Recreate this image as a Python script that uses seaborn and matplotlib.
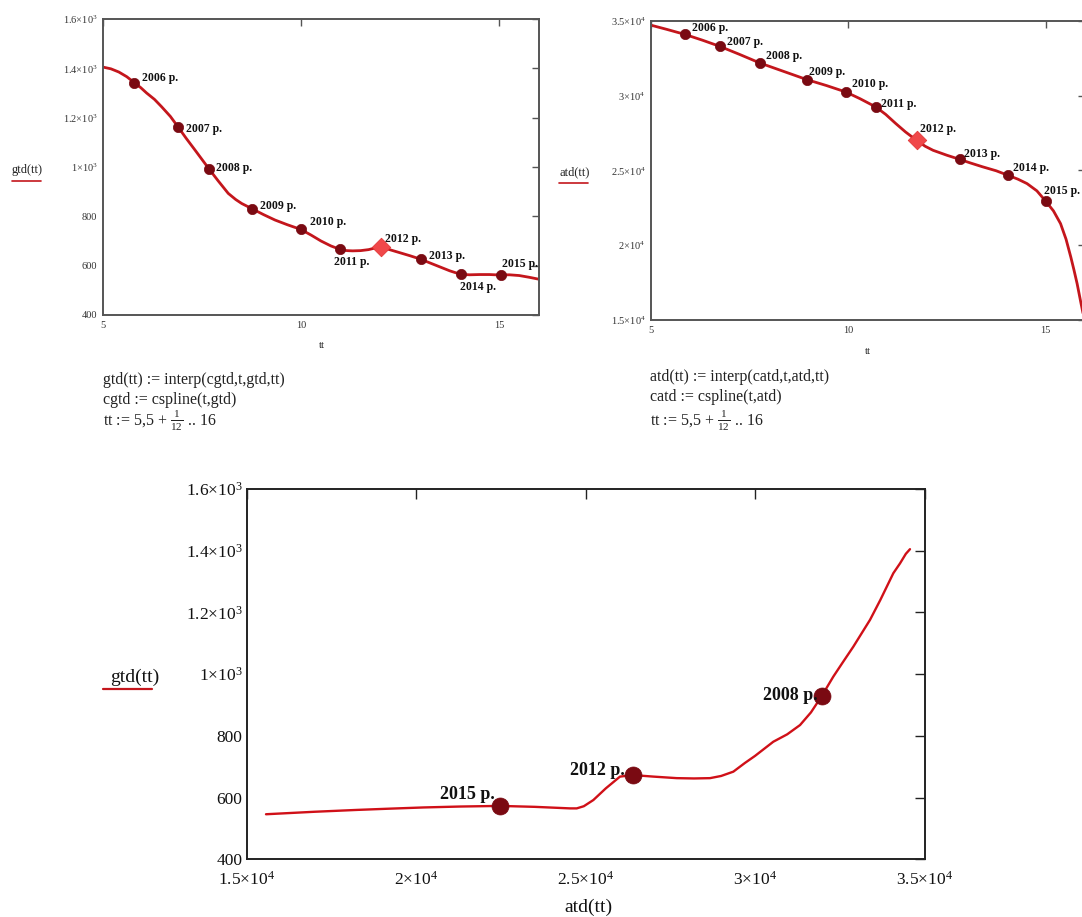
import matplotlib
matplotlib.use("Agg")
import matplotlib.pyplot as plt
import seaborn as sns

# ---- curve readings: gtd(tt) on tt in [5, 16]
tt_g = [5.0, 5.2, 5.4, 5.6, 5.79, 5.95, 6.1, 6.3, 6.48, 6.7, 6.9, 7.1, 7.32, 7.5,
        7.68, 7.9, 8.16, 8.35, 8.5, 8.77, 9.05, 9.34, 9.65, 9.99, 10.25, 10.5,
        10.75, 10.98, 11.15, 11.3, 11.5, 11.7, 11.85, 12.02, 12.25, 12.5, 12.75,
        13.02, 13.25, 13.5, 13.75, 14.02, 14.25, 14.5, 14.75, 15.03, 15.25, 15.5,
        15.75, 16.0]
gtd_curve = [1405, 1398, 1385, 1366, 1342, 1322, 1300, 1274, 1244, 1205, 1161, 1116,
             1069, 1030, 991, 945, 893, 868, 852, 830, 807, 785, 766, 747, 724, 700,
             680, 666, 661, 660, 661, 665, 671, 676, 664, 652, 640, 626, 611, 595,
             579, 565, 563, 564, 564, 562, 563, 560, 553, 545]

# ---- curve readings: atd(tt)
tt_a = [5.0, 5.4, 5.85, 6.3, 6.74, 7.25, 7.76, 8.35, 8.95, 9.45, 9.94, 10.3, 10.7,
        10.95, 11.2, 11.45, 11.73, 11.95, 12.15, 12.5, 12.82, 13.1, 13.4, 13.75,
        14.05, 14.3, 14.53, 14.78, 15.0, 15.2, 15.38, 15.52, 15.64, 15.72, 15.8,
        15.9, 16.0]
atd_curve = [34720, 34440, 34110, 33720, 33308, 32760, 32191, 31640, 31080, 30680,
             30250, 29800, 29247, 28750, 28150, 27580, 27020, 26620, 26350, 26020,
             25749, 25500, 25250, 24980, 24679, 24420, 24125, 23640, 22960, 22300,
             21448, 20400, 19214, 18350, 17435, 16100, 14800]

# ---- yearly points
years = ["2006", "2007", "2008", "2009", "2010", "2011", "2012", "2013", "2014", "2015"]
t_gtd = [5.79, 6.9, 7.68, 8.77, 9.99, 10.98, 12.02, 13.02, 14.02, 15.03]
gtd_pts = [1342, 1161, 991, 830, 747, 666, 676, 626, 565, 562]
t_atd = [5.85, 6.74, 7.76, 8.95, 9.94, 10.7, 11.73, 12.82, 14.05, 15.0]
atd_pts = [34110, 33308, 32191, 31080, 30250, 29247, 27020, 25749, 24679, 22960]

# ---- gtd against atd (parametric path)
path_atd = [15575, 17000, 18251, 19200, 20216, 21300, 22478, 23500, 24543, 24741,
            24950, 25231, 25600, 26018, 26393, 27000, 27691, 28200, 28673, 29000,
            29361, 29700, 30000, 30540, 30950, 31328, 31650, 31968, 32310, 32600,
            32900, 33393, 33695, 34080, 34278, 34450, 34572]
path_gtd = [546, 554, 560, 564, 568, 571, 573, 570, 565, 565,
            572, 592, 630, 668, 673, 668, 663, 662, 663, 670,
            684, 712, 735, 781, 805, 835, 876, 929, 992, 1040,
            1089, 1176, 1240, 1327, 1359, 1390, 1405]
path_years = ["2015", "2012", "2008"]
path_pt_atd = [22478, 26393, 31968]
path_pt_gtd = [573, 673, 929]

# ---- tick labels
t_ticks = [5, 10, 15]
g_ticks = [400, 600, 800, 1000, 1200, 1400, 1600]
g_labels = ["400", "600", "800", r"$1{\times}10^{3}$", r"$1.2{\times}10^{3}$",
            r"$1.4{\times}10^{3}$", r"$1.6{\times}10^{3}$"]
a_ticks = [15000, 20000, 25000, 30000, 35000]
a_labels = [r"$1.5{\times}10^{4}$", r"$2{\times}10^{4}$", r"$2.5{\times}10^{4}$",
            r"$3{\times}10^{4}$", r"$3.5{\times}10^{4}$"]

sns.set_theme(style="white")
plt.rcParams["font.family"] = ["Liberation Serif", "DejaVu Serif"]
plt.rcParams["mathtext.fontset"] = "custom"
plt.rcParams["mathtext.rm"] = "Liberation Serif"
plt.rcParams["mathtext.it"] = "Liberation Serif:italic"
plt.rcParams["mathtext.bf"] = "Liberation Serif:bold"

W, H = 1082, 917
fig = plt.figure(figsize=(W / 100, H / 100), dpi=100)
fig.patch.set_facecolor("white")


def box(l, t, r, b):
    return [l / W, 1 - b / H, (r - l) / W, (b - t) / H]


LINE = "#c4161c"
DOT = "#7a0a12"
DIAM = "#f0484a"


def frame(ax, size, color, length, spine_color):
    for s in ax.spines.values():
        s.set_color(spine_color)
        s.set_linewidth(1.4)
    ax.tick_params(direction="in", top=True, right=True, length=length,
                   width=1.0, color=spine_color, labelsize=size, labelcolor=color, pad=4)
    ax.set_xlabel("")
    ax.set_ylabel("")
    ax.grid(False)


# ---------- top left: gtd(tt)
ax1 = fig.add_axes(box(103, 19, 539, 315))
sns.lineplot(x=tt_g, y=gtd_curve, sort=False, color=LINE, lw=2.0, ax=ax1)
dots = [i for i, y in enumerate(years) if y != "2012"]
sns.scatterplot(x=[t_gtd[i] for i in dots], y=[gtd_pts[i] for i in dots], ax=ax1,
                color=DOT, s=55, edgecolor=DOT, linewidth=0.5, zorder=3)
i12 = years.index("2012")
sns.scatterplot(x=[t_gtd[i12]], y=[gtd_pts[i12]], ax=ax1, marker="D", color=DIAM,
                s=90, edgecolor="#e03030", linewidth=0.5, zorder=3)
ax1.set_xlim(5, 16)
ax1.set_ylim(400, 1600)
ax1.set_xticks(t_ticks)
ax1.set_xticklabels([str(v) for v in t_ticks])
ax1.set_yticks(g_ticks)
ax1.set_yticklabels(g_labels)
frame(ax1, 7.5, "#333333", 5, "#555555")

off1 = {"2006": (8, 5, "left"), "2007": (8, -2, "left"), "2008": (7, 1, "left"),
        "2009": (8, 3, "left"), "2010": (9, 7, "left"), "2011": (12, -13, "center"),
        "2012": (4, 8, "left"), "2013": (8, 3, "left"), "2014": (17, -13, "center"),
        "2015": (19, 11, "center")}
for y, t, v in zip(years, t_gtd, gtd_pts):
    dx, dy, ha = off1[y]
    ax1.annotate(y + " р.", (t, v), xytext=(dx, dy), textcoords="offset pixels",
                 ha=ha, va="center", fontsize=8.5, fontweight="bold", color="#111111",
                 annotation_clip=False)

fig.text(12 / W, 1 - 170 / H, "gtd(tt)", fontsize=9, color="#222222", va="center")
fig.add_artist(plt.Line2D([12 / W, 41 / W], [1 - 181 / H, 1 - 181 / H],
                          color=LINE, lw=1.2))
fig.text(322 / W, 1 - 346 / H, "tt", fontsize=8, color="#222222", ha="center", va="center")

# ---------- top right: atd(tt)
ax2 = fig.add_axes(box(651, 21, 1085, 320))
sns.lineplot(x=tt_a, y=atd_curve, sort=False, color=LINE, lw=2.0, ax=ax2)
sns.scatterplot(x=[t_atd[i] for i in dots], y=[atd_pts[i] for i in dots], ax=ax2,
                color=DOT, s=55, edgecolor=DOT, linewidth=0.5, zorder=3)
sns.scatterplot(x=[t_atd[i12]], y=[atd_pts[i12]], ax=ax2, marker="D", color=DIAM,
                s=90, edgecolor="#e03030", linewidth=0.5, zorder=3)
ax2.set_xlim(5, 16)
ax2.set_ylim(15000, 35000)
ax2.set_xticks(t_ticks)
ax2.set_xticklabels([str(v) for v in t_ticks])
ax2.set_yticks(a_ticks)
ax2.set_yticklabels(a_labels)
frame(ax2, 7.5, "#333333", 5, "#555555")

off2 = {"2006": (7, 6), "2007": (7, 4), "2008": (6, 7), "2009": (2, 8), "2010": (6, 8),
        "2011": (5, 3), "2012": (3, 11), "2013": (4, 5), "2014": (5, 7), "2015": (-2, 10)}
for y, t, v in zip(years, t_atd, atd_pts):
    dx, dy = off2[y]
    ax2.annotate(y + " р.", (t, v), xytext=(dx, dy), textcoords="offset pixels",
                 ha="left", va="center", fontsize=8.5, fontweight="bold", color="#111111",
                 annotation_clip=False)

fig.text(559 / W, 1 - 172 / H, "atd(tt)", fontsize=9, color="#222222", va="center")
fig.add_artist(plt.Line2D([559 / W, 588 / W], [1 - 183 / H, 1 - 183 / H],
                          color=LINE, lw=1.2))
fig.text(868 / W, 1 - 352 / H, "tt", fontsize=8, color="#222222", ha="center", va="center")

# ---------- definitions under the top charts
defs_left = ["gtd(tt) := interp(cgtd,t,gtd,tt)", "cgtd := cspline(t,gtd)",
             r"tt := 5,5 + $\frac{1}{12}$ .. 16"]
defs_right = ["atd(tt) := interp(catd,t,atd,tt)", "catd := cspline(t,atd)",
              r"tt := 5,5 + $\frac{1}{12}$ .. 16"]
for s, yy in zip(defs_left, [380, 400, 421]):
    fig.text(103 / W, 1 - yy / H, s, fontsize=11.5, color="#222222", va="center")
for s, yy in zip(defs_right, [377, 397, 421]):
    fig.text(650 / W, 1 - yy / H, s, fontsize=11.5, color="#222222", va="center")

# ---------- bottom: gtd against atd
ax3 = fig.add_axes(box(246.5, 489, 924.5, 859.3))
sns.lineplot(x=path_atd, y=path_gtd, sort=False, color="#d01018", lw=1.7, ax=ax3)
sns.scatterplot(x=path_pt_atd, y=path_pt_gtd, ax=ax3, color=DOT, s=150,
                edgecolor=DOT, linewidth=0.5, zorder=3)
ax3.set_xlim(15000, 35000)
ax3.set_ylim(400, 1600)
ax3.set_xticks(a_ticks)
ax3.set_xticklabels(a_labels)
ax3.set_yticks(g_ticks)
ax3.set_yticklabels(g_labels)
frame(ax3, 12.5, "#111111", 7, "#222222")
ax3.tick_params(axis="x", pad=8)
ax3.tick_params(axis="y", pad=3)

off3 = {"2015": (-5, 11), "2012": (-8, 5), "2008": (-4, 1)}
for y, a, g in zip(path_years, path_pt_atd, path_pt_gtd):
    dx, dy = off3[y]
    ax3.annotate(y + " р.", (a, g), xytext=(dx, dy), textcoords="offset pixels",
                 ha="right", va="center", fontsize=13, fontweight="bold", color="#111111")

fig.text(135 / W, 1 - 677 / H, "gtd(tt)", fontsize=14, color="#111111",
         ha="center", va="center")
fig.add_artist(plt.Line2D([103 / W, 152 / W], [1 - 689 / H, 1 - 689 / H],
                          color=LINE, lw=1.6))
fig.text(588 / W, 1 - 907 / H, "atd(tt)", fontsize=14, color="#111111",
         ha="center", va="center")

fig.savefig("out.png", dpi=100, facecolor="white")
